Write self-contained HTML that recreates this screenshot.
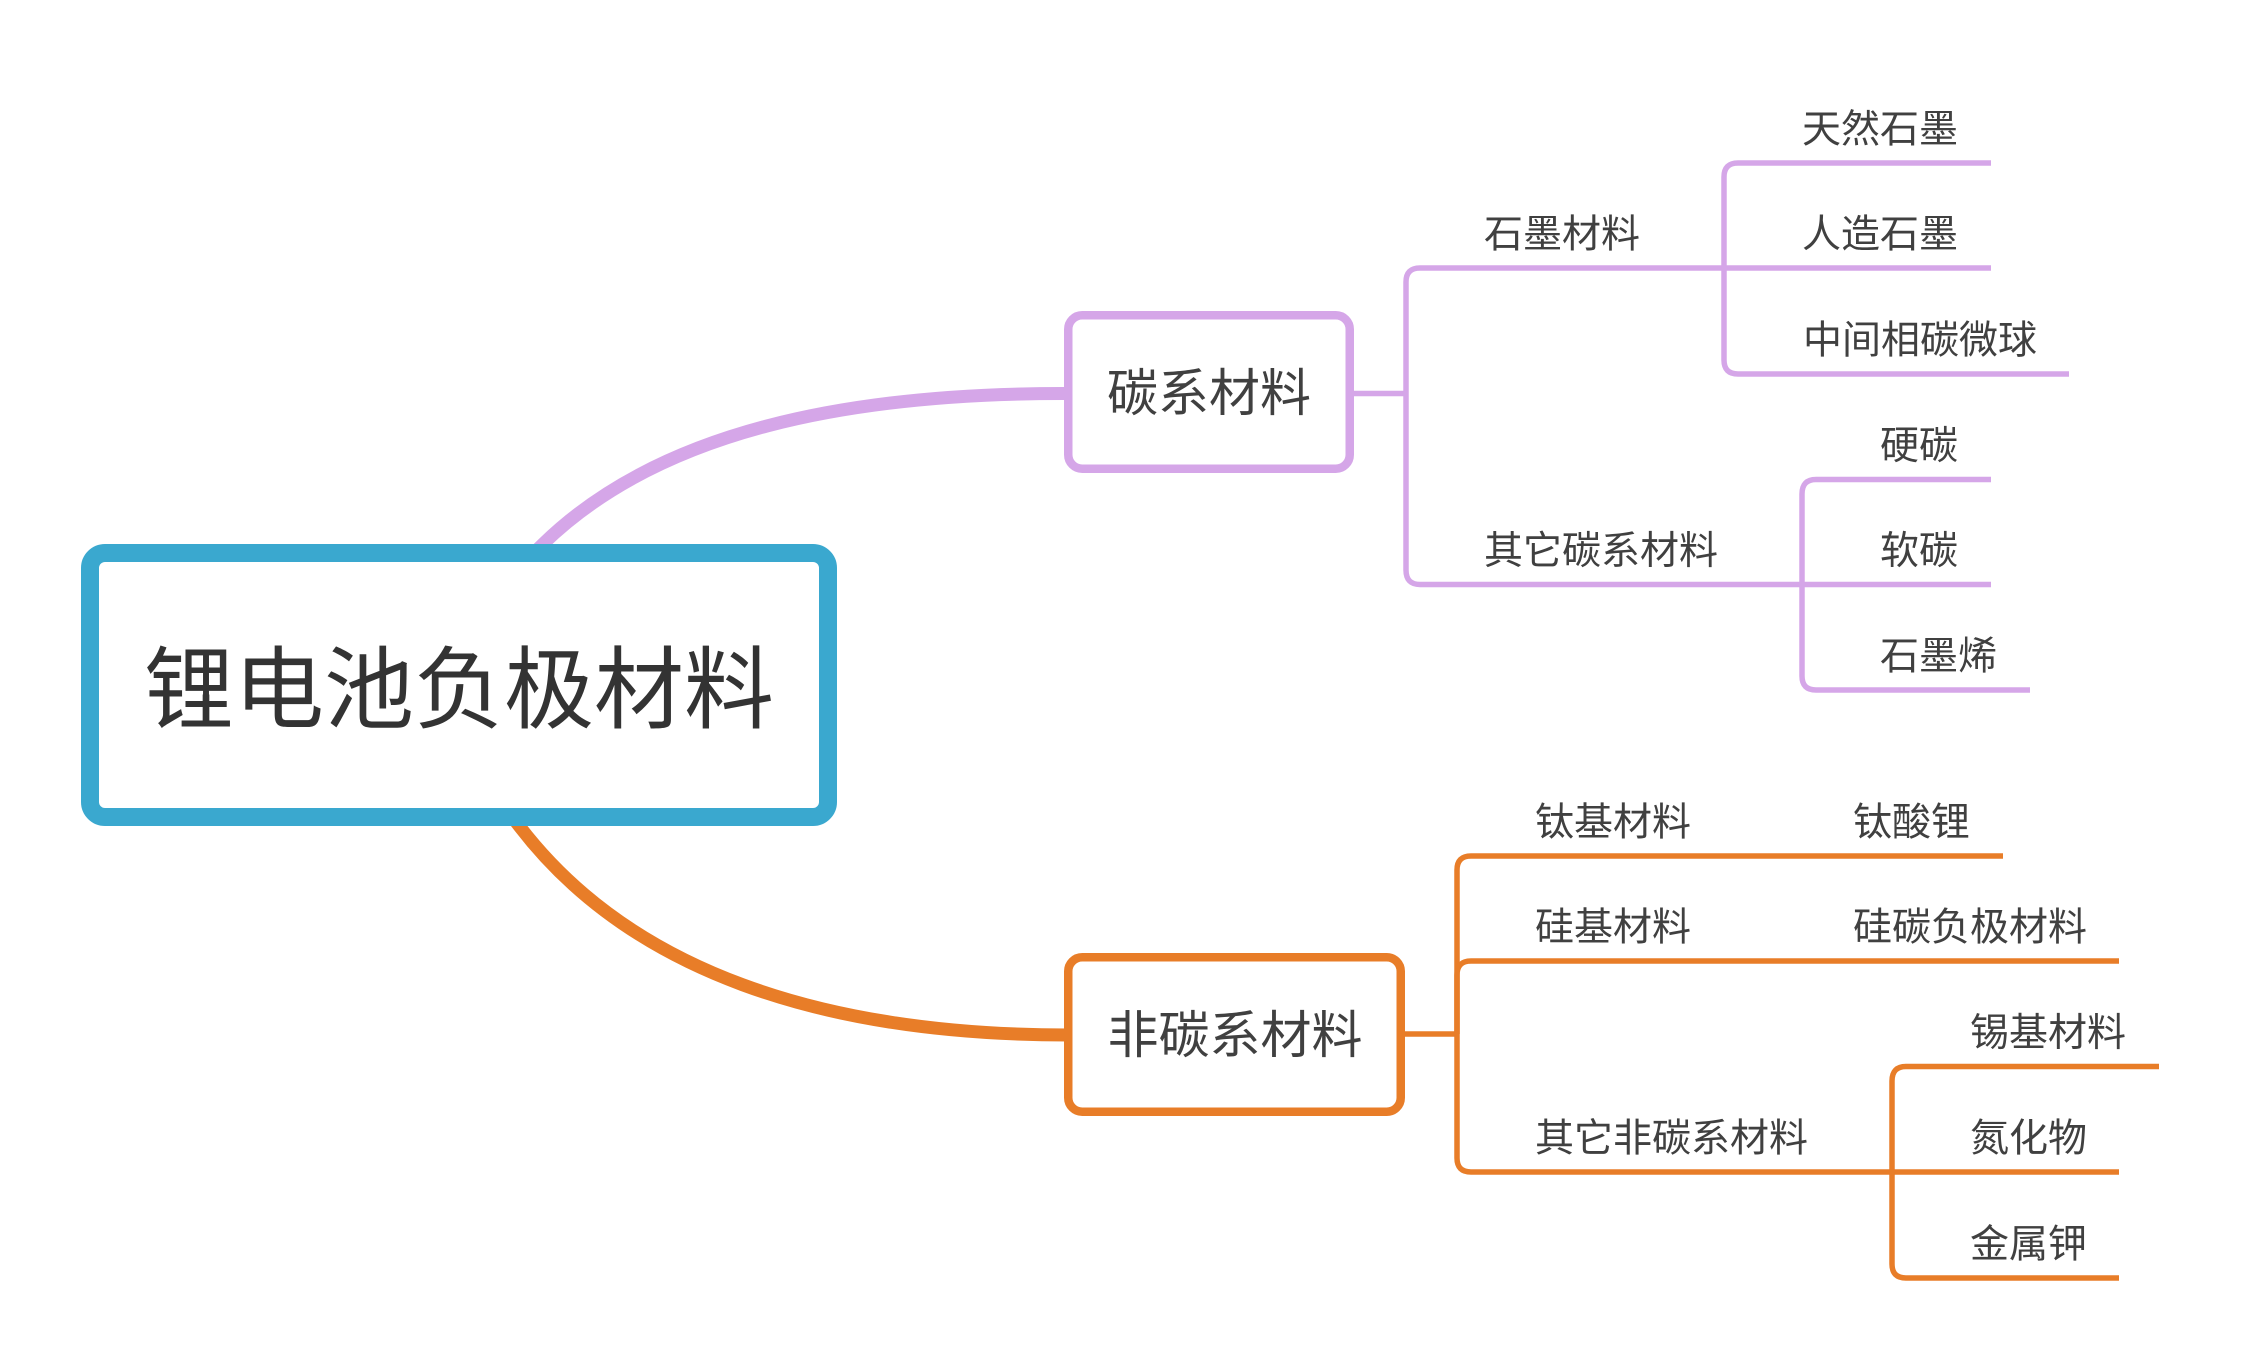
<!DOCTYPE html>
<html>
<head>
<meta charset="utf-8">
<style>
  html, body { margin: 0; padding: 0; background: #ffffff; }
  body { width: 2243px; height: 1372px; overflow: hidden; }
  svg { display: block; }
  text { font-family: "Liberation Sans", "Noto Sans CJK SC", sans-serif; }
</style>
</head>
<body>
<svg width="2243" height="1372" viewBox="0 0 2243 1372" xmlns="http://www.w3.org/2000/svg">
  <rect x="0" y="0" width="2243" height="1372" fill="#ffffff"/>

  <!-- main curves -->
  <path d="M 501 585 L 543 544 C 660 430, 850 393, 1068 393.5" fill="none" stroke="#D5A6E8" stroke-width="13" stroke-linecap="butt"/>
  <path d="M 486 783 L 520 827 C 630 970, 820 1035, 1068 1035" fill="none" stroke="#E87D28" stroke-width="13" stroke-linecap="butt"/>

  <!-- root box -->
  <rect x="90" y="553" width="738" height="264" rx="15" ry="15" fill="#ffffff" stroke="#3AA8CF" stroke-width="18"/>
  <text x="459" y="721" font-size="90" fill="#333333" text-anchor="middle">锂电池负极材料</text>

  <!-- carbon subtree lines -->
  <g fill="none" stroke="#D5A6E8" stroke-width="5.5">
    <path d="M 1350 393.5 H 1406"/>
    <path d="M 1406 393.5 V 282 Q 1406 268 1420 268 H 1724"/>
    <path d="M 1406 393.5 V 570 Q 1406 584.5 1420 584.5 H 1802"/>
    <path d="M 1724 268 V 177 Q 1724 163 1738 163 H 1991"/>
    <path d="M 1724 268 H 1991"/>
    <path d="M 1724 268 V 360 Q 1724 374 1738 374 H 2069"/>
    <path d="M 1802 584.5 V 494 Q 1802 479.5 1816 479.5 H 1991"/>
    <path d="M 1802 584.5 H 1991"/>
    <path d="M 1802 584.5 V 676 Q 1802 690 1816 690 H 2030"/>
  </g>

  <!-- carbon box -->
  <rect x="1068.25" y="315.25" width="281.5" height="153.5" rx="14" ry="14" fill="#ffffff" stroke="#D5A6E8" stroke-width="8.5"/>
  <text x="1209" y="411" font-size="51" fill="#404040" text-anchor="middle">碳系材料</text>

  <g font-size="39" fill="#404040">
    <text x="1484" y="247.5">石墨材料</text>
    <text x="1484" y="564">其它碳系材料</text>
    <text x="1802" y="142.5">天然石墨</text>
    <text x="1802" y="247.5">人造石墨</text>
    <text x="1803" y="353.5">中间相碳微球</text>
    <text x="1880" y="459">硬碳</text>
    <text x="1880" y="564">软碳</text>
    <text x="1880" y="669.5">石墨烯</text>
  </g>

  <!-- non-carbon subtree lines -->
  <g fill="none" stroke="#E87D28" stroke-width="5.5">
    <path d="M 1401 1034 H 1457"/>
    <path d="M 1457 1034 V 870 Q 1457 856 1471 856 H 2003"/>
    <path d="M 1457 1034 V 975 Q 1457 961 1471 961 H 2119"/>
    <path d="M 1457 1034 V 1158 Q 1457 1172 1471 1172 H 1892"/>
    <path d="M 1892 1172 V 1081 Q 1892 1066.5 1906 1066.5 H 2159"/>
    <path d="M 1892 1172 H 2119"/>
    <path d="M 1892 1172 V 1264 Q 1892 1278 1906 1278 H 2119"/>
  </g>

  <!-- non-carbon box -->
  <rect x="1068.25" y="957.25" width="332.5" height="154.5" rx="14" ry="14" fill="#ffffff" stroke="#E87D28" stroke-width="8.5"/>
  <text x="1235" y="1053" font-size="51" fill="#404040" text-anchor="middle">非碳系材料</text>

  <g font-size="39" fill="#404040">
    <text x="1535" y="835.5">钛基材料</text>
    <text x="1853" y="835.5">钛酸锂</text>
    <text x="1535" y="940.5">硅基材料</text>
    <text x="1853" y="940.5">硅碳负极材料</text>
    <text x="1535" y="1151.5">其它非碳系材料</text>
    <text x="1970" y="1046">锡基材料</text>
    <text x="1970" y="1151.5">氮化物</text>
    <text x="1970" y="1257.5">金属钾</text>
  </g>
</svg>
</body>
</html>
